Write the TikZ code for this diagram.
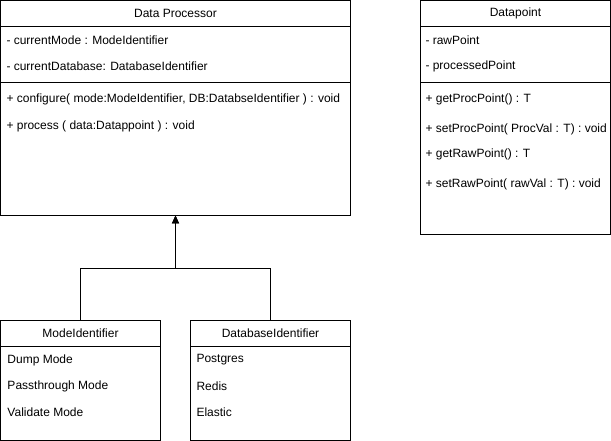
\documentclass[tikz,border=0pt]{standalone}
\usepackage{fontspec}
\setmainfont{Liberation Sans}
\usetikzlibrary{positioning,arrows.meta,ext.paths.ortho}

\begin{document}
\begin{tikzpicture}[
        x=1pt,y=-1pt,
        line width=1pt,
        font=\fontsize{12}{14}\selectfont,
        box/.style = {
            draw,outer sep=0pt,inner sep=0pt,
            anchor=north west},
        head/.style = {box,minimum height=26pt},
        attrs/.style = {box,minimum height=56pt},
        member/.style = {anchor=west,inner sep=0pt},
        arr/.style = {-{Triangle[length=8pt,width=7pt]}},
]
        \useasboundingbox (0,0) rectangle (611,441);
        \node[box,minimum width=350pt,minimum height=215pt] (P) at (0.5,0.5) {};
        \node[head,minimum width=350pt] (Ph) at (P.north west) {Data Processor};
        \node[attrs,minimum width=350pt] (Pa) at (Ph.south west) {};
        \node[member] (P1) at (6,40) {- currentMode : ModeIdentifier};
        \node[member] (P2) at (6,66) {- currentDatabase: DatabaseIdentifier};
        \node[member] (P3) at (6,99) {+ configure( mode:ModeIdentifier, DB:DatabseIdentifier ) : void};
        \node[member] (P4) at (6,126) {+ process ( data:Datappoint ) : void};

        \node[box,minimum width=190pt,minimum height=234pt] (D) at (420.5,0.5) {};
        \node[head,minimum width=190pt] (Dh) at (D.north west) {Datapoint};
        \node[attrs,minimum width=190pt] (Da) at (Dh.south west) {};
        \node[member] (D1) at (425,40) {- rawPoint};
        \node[member] (D2) at (425,66) {- processedPoint};
        \node[member] (D3) at (425,99) {+ getProcPoint() : T};
        \node[member] (D4) at (425,129) {+ setProcPoint( ProcVal : T) : void};
        \node[member] (D5) at (425,154) {+ getRawPoint() : T};
        \node[member] (D6) at (425,184) {+ setRawPoint( rawVal : T) : void};

        \node[box,minimum width=160pt,minimum height=120pt] (M) at (0.5,320.5) {};
        \node[head,minimum width=160pt] (Mh) at (M.north west) {ModeIdentifier};
        \node[member] (M1) at (7,360) {Dump Mode};
        \node[member] (M2) at (7,386) {Passthrough Mode};
        \node[member] (M3) at (7,412) {Validate Mode};

        \node[box,minimum width=160pt,minimum height=120pt] (B) at (190.5,320.5) {};
        \node[head,minimum width=160pt] (Bh) at (B.north west) {DatabaseIdentifier};
        \node[member] (B1) at (196,360) {Postgres};
        \node[member] (B2) at (196,386) {Redis};
        \node[member] (B3) at (196,412) {Elastic};

        \draw [arr] (M.north) |-| (P.south);
        \draw [arr] (B.north) |-| (P.south);
\end{tikzpicture}
\end{document}
